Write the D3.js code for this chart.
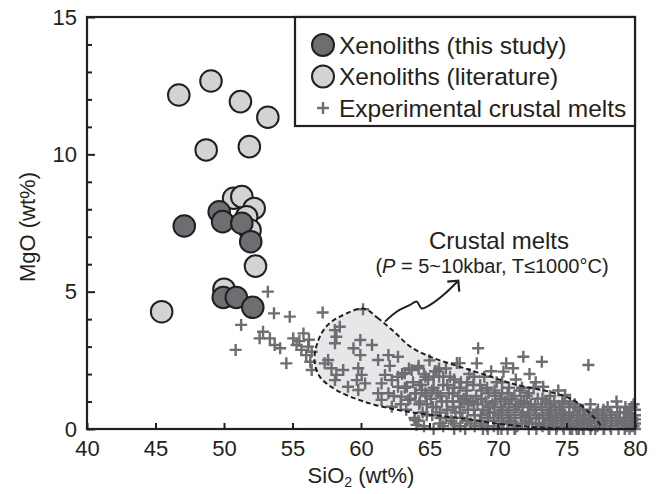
<!DOCTYPE html>
<html>
<head>
<meta charset="utf-8">
<script src="https://cdn.jsdelivr.net/npm/d3@7/dist/d3.min.js"></script>
<style>
  html, body { margin: 0; padding: 0; background: #fff; }
  svg { display: block; font-family: "Liberation Sans", Arial, sans-serif; }
</style>
</head>
<body>
<svg id="chart" width="657" height="494"></svg>
<script>
const xTicks = [40, 45, 50, 55, 60, 65, 70, 75, 80];
const yTicks = [0, 5, 10, 15];
const yMinorTicks = [1, 2, 3, 4, 6, 7, 8, 9, 11, 12, 13, 14];

// [SiO2, MgO]
const xenolithsLiterature = [
  [46.7, 12.16], [49.05, 12.67], [51.2, 11.92], [53.2, 11.35],
  [48.7, 10.16], [51.85, 10.28], [50.7, 8.4], [51.3, 8.46],
  [52.2, 8.03], [51.65, 7.73], [51.9, 7.24], [52.3, 5.93],
  [50.0, 5.09], [45.45, 4.27]
];

const xenolithsThisStudy = [
  [47.1, 7.39], [49.65, 7.91], [49.9, 7.55], [51.3, 7.49],
  [51.95, 6.82], [49.95, 4.79], [50.9, 4.79], [52.1, 4.43]
];

const crustalMelts = [
  // sparse, low-silica side
  [53.2, 5.0], [53.65, 4.21], [54.8, 4.09], [57.2, 4.24], [60.15, 4.36],
  [51.25, 3.79], [50.85, 2.88], [52.85, 3.54], [52.6, 3.3], [53.35, 3.3],
  [53.7, 3.06], [54.1, 2.94], [54.55, 2.39], [55.05, 3.3], [55.8, 3.48],
  [55.3, 3.06], [55.65, 2.88], [56.15, 3.0], [56.0, 2.69], [56.4, 2.81],
  [56.3, 2.45], [56.4, 2.15], [57.35, 2.39], [57.6, 2.51], [58.2, 3.36],
  [58.45, 3.72], [58.1, 3.6], [58.1, 3.12], [57.85, 2.21], [58.2, 1.97],
  [58.7, 2.15], [58.1, 1.78], [59.05, 1.54], [59.95, 3.24], [59.45, 2.94],
  [60.8, 3.06], [59.95, 2.69], [59.8, 2.21], [60.05, 1.97], [59.7, 1.78],
  [60.3, 1.66], [59.8, 1.42], [61.25, 2.51], [62.0, 2.69], [62.7, 2.63],
  [61.75, 1.97], [61.5, 1.66], [62.25, 1.78], [61.25, 1.3], [62.0, 1.3],
  [62.7, 1.54], [61.5, 1.06], [62.25, 0.81], [63.2, 2.03], [63.7, 2.15],
  [64.2, 2.21], [63.35, 1.54], [63.95, 1.3], [63.45, 1.06], [64.45, 1.42],
  [62.95, 1.18], [63.95, 0.33], [64.05, 0.15], [55.5, 3.2], [56.2, 3.25],
  // 62-66
  [62.1, 2.3], [62.4, 1.2], [62.7, 1.9], [62.9, 0.9], [63.0, 2.0], [63.2, 1.5],
  [63.3, 0.7], [63.5, 2.2], [63.6, 1.1], [63.8, 1.7], [63.9, 0.4], [64.0, 1.3],
  [64.2, 2.3], [64.3, 1.0], [64.4, 1.6], [64.5, 0.6], [64.6, 2.0], [64.7, 1.3],
  [64.8, 0.9], [64.9, 1.8], [65.0, 2.5], [65.1, 1.1], [65.2, 0.5], [65.3, 1.5],
  [65.4, 2.1], [65.5, 0.8], [65.6, 1.3], [65.7, 1.9], [65.8, 0.4], [65.9, 1.0],
  [66.0, 1.6], [66.0, 0.1], [65.3, 0.0], [64.6, 0.1], [65.5, 2.1], [66.0, 1.9],
  [64.25, 0.9], [64.3, 1.6], [64.2, 0.3], [64.75, 1.2], [64.8, 0.5], [64.7, 1.9],
  [65.25, 0.8], [65.2, 1.4], [65.3, 1.9], [65.75, 0.6], [65.8, 1.2], [65.7, 2.2],
  [65.75, 0.2],
  // 66-68
  [66.2, 2.2], [66.3, 0.7], [66.4, 1.3], [66.5, 1.9], [66.6, 0.3], [66.7, 1.0],
  [66.8, 1.5], [66.9, 0.6], [67.0, 2.4], [67.1, 1.2], [67.2, 0.8], [67.3, 1.7],
  [67.4, 0.4], [67.5, 1.1], [67.6, 0.0], [67.7, 1.4], [67.8, 0.7], [67.9, 2.0],
  [68.0, 1.0], [68.0, 0.2], [66.8, 0.0], [67.2, 2.4],
  [66.25, 1.0], [66.3, 1.6], [66.2, 0.4], [66.75, 0.8], [66.7, 1.3], [66.8, 1.8],
  [66.75, 0.2], [67.25, 0.6], [67.3, 1.0], [67.2, 1.5], [67.25, 0.1], [67.75, 0.3],
  [67.8, 0.9], [67.7, 1.2], [67.75, 1.7],
  // 68-70
  [68.2, 1.6], [68.3, 0.5], [68.55, 2.94], [68.4, 1.2], [68.5, 0.9], [68.45, 2.39],
  [68.7, 0.3], [68.8, 1.4], [68.9, 0.7], [69.0, 1.9], [69.1, 1.0], [69.2, 0.1],
  [69.3, 1.3], [69.4, 0.6], [69.5, 2.1], [69.6, 0.9], [69.7, 0.3], [69.8, 1.2],
  [69.9, 1.7], [70.0, 0.5], [70.0, 0.0], [68.9, 0.0],
  [68.25, 0.7], [68.2, 1.0], [68.3, 0.1], [68.25, 1.9], [68.75, 0.5], [68.8, 1.1],
  [68.7, 1.6], [68.75, 0.2], [69.25, 0.4], [69.3, 0.8], [69.2, 1.5], [69.25, 0.0],
  [69.75, 0.6], [69.8, 1.0], [69.7, 0.1], [69.75, 1.4],
  // 70-72
  [70.6, 2.39], [70.2, 0.8], [70.3, 1.3], [70.4, 0.2], [70.5, 1.0], [70.4, 2.09],
  [70.7, 0.6], [70.8, 1.5], [70.9, 0.3], [71.0, 1.1], [71.1, 2.21], [71.2, 0.7],
  [71.3, 1.8], [71.4, 0.1], [71.5, 0.9], [71.6, 1.4], [71.7, 0.5], [71.85, 2.63],
  [71.9, 1.0], [72.0, 0.3], [71.2, 0.0], [70.7, 0.0],
  [70.25, 0.4], [70.3, 0.7], [70.2, 1.1], [70.25, 0.0], [70.3, 1.7], [70.75, 0.2],
  [70.8, 0.9], [70.7, 1.3], [70.75, 0.5], [71.25, 0.4], [71.3, 0.8], [71.2, 1.2],
  [71.25, 0.0], [71.75, 0.2], [71.8, 0.6], [71.7, 1.0], [71.75, 1.5],
  // 72-74
  [72.1, 1.2], [72.2, 0.6], [72.3, 2.0], [72.4, 0.9], [72.5, 0.2], [72.6, 1.5],
  [72.7, 0.7], [72.8, 0.0], [72.9, 1.1], [73.0, 0.4], [73.2, 2.45], [73.2, 0.8],
  [73.3, 1.54], [73.4, 0.2], [73.5, 1.0], [73.6, 0.5], [73.7, 0.0], [73.8, 1.2],
  [73.9, 0.7], [74.0, 0.3],
  [72.25, 0.0], [72.3, 0.4], [72.2, 0.8], [72.25, 1.3], [72.75, 0.2], [72.8, 0.5],
  [72.7, 0.9], [72.75, 1.7], [73.25, 0.1], [73.3, 0.4], [73.2, 0.7], [73.25, 1.1],
  [73.75, 0.0], [73.8, 0.3], [73.7, 0.6], [73.75, 0.9],
  // 74-76
  [74.1, 1.0], [74.2, 0.5], [74.3, 0.1], [74.4, 1.4], [74.5, 0.7], [74.6, 0.3],
  [74.7, 1.0], [74.8, 0.0], [74.9, 0.5], [74.9, 1.24], [75.1, 0.2], [75.2, 0.8],
  [75.3, 0.4], [75.4, 0.0], [75.5, 0.6], [75.6, 0.9], [75.7, 0.2], [75.8, 0.5],
  [75.9, 0.0], [76.0, 0.7],
  [74.25, 0.2], [74.3, 0.4], [74.2, 0.8], [74.25, 0.0], [74.75, 0.1], [74.8, 0.4],
  [74.7, 0.6], [74.75, 0.9], [75.25, 0.0], [75.3, 0.3], [75.2, 0.5], [75.25, 1.0],
  [75.75, 0.1], [75.8, 0.3], [75.7, 0.8], [75.75, 0.0],
  // 76-78
  [76.1, 0.3], [76.2, 0.0], [76.3, 0.5], [76.5, 0.2], [76.6, 2.33], [76.7, 0.6],
  [76.8, 0.1], [77.0, 0.4], [77.1, 0.0], [77.3, 0.7], [77.4, 0.2], [77.6, 0.5],
  [77.7, 0.0], [77.9, 0.3], [78.0, 0.8],
  [76.25, 0.2], [76.3, 0.4], [76.2, 0.7], [76.25, 0.0], [76.75, 0.0], [76.8, 0.3],
  [76.7, 0.5], [76.75, 0.9], [77.25, 0.1], [77.3, 0.4], [77.2, 0.6], [77.75, 0.2],
  [77.8, 0.4], [77.7, 0.7], [77.75, 0.0],
  // 78-80
  [78.2, 0.1], [78.3, 0.5], [78.65, 1.0], [78.6, 0.3], [78.8, 0.0], [78.9, 0.6],
  [79.0, 0.2], [79.2, 0.4], [79.3, 0.8], [79.4, 0.1], [79.5, 0.57], [79.6, 0.0],
  [79.7, 0.7], [79.8, 0.3], [79.9, 0.9], [79.9, 0.1], [80.0, 0.5], [80.0, 0.2],
  [78.25, 0.0], [78.3, 0.3], [78.2, 0.6], [78.75, 0.2], [78.8, 0.4], [78.7, 0.8],
  [79.25, 0.0], [79.3, 0.3], [79.2, 0.6], [79.75, 0.1], [79.8, 0.4], [79.7, 0.5],
  [79.75, 0.8], [79.7, 0.2], [80.0, 0.0], [80.0, 0.35], [80.0, 0.7]
];

// dashed "crustal melts" field outline
const meltField = [
  [60.2, 4.38], [61.2, 4.05], [62.4, 3.55], [63.6, 3.0], [65.2, 2.6], [67.0, 2.3],
  [68.9, 2.0], [71.4, 1.6], [73.8, 1.35], [75.5, 1.05], [76.6, 0.62], [77.5, 0.05],
  [74.8, 0.02], [72.3, 0.08], [69.9, 0.2], [67.5, 0.38], [65.0, 0.52], [62.6, 0.7],
  [60.2, 1.0], [58.2, 1.42], [57.0, 1.9], [56.6, 2.5], [56.9, 3.25], [57.5, 3.75],
  [58.5, 4.1]
];

// wavy arrow from the field to the label
const arrowPath = [
  [61.75, 3.91], [62.6, 4.27], [63.58, 4.52], [64.06, 4.64], [64.43, 4.39],
  [65.04, 4.52], [66.01, 4.88], [67.1, 5.4]
];

const svg = d3.select("#chart");
const margin = { top: 17, right: 22, bottom: 65, left: 87 };
const width = 657, height = 494;

const x = d3.scaleLinear().domain([40, 80]).range([margin.left, width - margin.right]);
const y = d3.scaleLinear().domain([0, 15]).range([height - margin.bottom, margin.top]);

const ink = "#231f20";
const plusColor = "#6d6e71";
const fieldLine = d3.line().x(d => x(d[0])).y(d => y(d[1])).curve(d3.curveCatmullRomClosed);

// melt field
svg.append("path")
  .datum(meltField)
  .attr("fill", "#e6e7e8")
  .attr("d", fieldLine);

// plus markers
const plus = "M-6,0H6M0,-6V6";
svg.append("g")
  .selectAll("path")
  .data(crustalMelts)
  .join("path")
  .attr("transform", d => `translate(${x(d[0])},${y(d[1])})`)
  .attr("d", plus)
  .attr("stroke", plusColor)
  .attr("stroke-width", 2.4)
  .attr("fill", "none");

svg.append("path")
  .datum(meltField)
  .attr("fill", "none")
  .attr("stroke", ink)
  .attr("stroke-width", 2)
  .attr("stroke-dasharray", "5,3")
  .attr("d", fieldLine);

// arrow
svg.append("path")
  .datum(arrowPath)
  .attr("fill", "none")
  .attr("stroke", ink)
  .attr("stroke-width", 2)
  .attr("d", d3.line().x(d => x(d[0])).y(d => y(d[1])).curve(d3.curveCatmullRom));
{
  const tip = arrowPath[arrowPath.length - 1];
  const tx = x(tip[0]), ty = y(tip[1]);
  svg.append("path")
    .attr("d", `M${tx - 11},${ty + 1}L${tx},${ty}L${tx + 1},${ty + 11}`)
    .attr("fill", "none")
    .attr("stroke", ink)
    .attr("stroke-width", 2.2);
}

// circles
function drawCircles(data, fill) {
  svg.append("g")
    .selectAll("circle")
    .data(data)
    .join("circle")
    .attr("cx", d => x(d[0]))
    .attr("cy", d => y(d[1]))
    .attr("r", 10.8)
    .attr("fill", fill)
    .attr("stroke", ink)
    .attr("stroke-width", 2);
}
drawCircles(xenolithsLiterature, "#d1d3d4");
drawCircles(xenolithsThisStudy, "#6d6e71");

// axes
svg.append("g")
  .attr("transform", `translate(0,${y(0)})`)
  .call(d3.axisBottom(x).tickValues(xTicks).tickSizeInner(-6).tickSizeOuter(0).tickPadding(11));
svg.append("g")
  .attr("transform", `translate(${x(40)},0)`)
  .call(d3.axisLeft(y).tickValues(yTicks).tickSizeInner(-8).tickSizeOuter(0).tickPadding(10));
svg.append("g")
  .attr("transform", `translate(${x(40)},0)`)
  .call(d3.axisLeft(y).tickValues(yMinorTicks).tickSizeInner(-5).tickSizeOuter(0).tickFormat(""));

svg.selectAll(".domain").remove();
svg.selectAll(".tick line").attr("stroke", ink).attr("stroke-width", 2);
svg.selectAll(".tick text")
  .attr("fill", ink)
  .style("font-size", "22px")
  .style("font-family", "Liberation Sans, Arial, sans-serif");

// frame
svg.append("rect")
  .attr("x", x(40)).attr("y", y(15))
  .attr("width", x(80) - x(40)).attr("height", y(0) - y(15))
  .attr("fill", "none").attr("stroke", ink).attr("stroke-width", 2.2);

// legend
const legend = svg.append("g");
legend.append("rect")
  .attr("x", 295).attr("y", y(15))
  .attr("width", x(80) - 295).attr("height", 109)
  .attr("fill", "#fff").attr("stroke", ink).attr("stroke-width", 2.2);
const legendItems = [
  { label: "Xenoliths (this study)", type: "circle", fill: "#6d6e71" },
  { label: "Xenoliths (literature)", type: "circle", fill: "#d1d3d4" },
  { label: "Experimental crustal melts", type: "plus" }
];
legendItems.forEach((item, i) => {
  const cy = 45 + i * 31.5;
  if (item.type === "circle") {
    legend.append("circle").attr("cx", 323).attr("cy", cy).attr("r", 11)
      .attr("fill", item.fill).attr("stroke", ink).attr("stroke-width", 2);
  } else {
    legend.append("path").attr("transform", `translate(323,${cy})`).attr("d", plus)
      .attr("stroke", plusColor).attr("stroke-width", 2.4);
  }
  legend.append("text").attr("x", 339).attr("y", cy + 8.5)
    .attr("fill", ink).style("font-size", "24.5px").text(item.label);
});

// annotation
svg.append("text")
  .attr("x", 499).attr("y", 249)
  .attr("text-anchor", "middle").attr("fill", ink)
  .style("font-size", "24px").text("Crustal melts");
const sub = svg.append("text")
  .attr("x", 492).attr("y", 273)
  .attr("text-anchor", "middle").attr("fill", ink)
  .style("font-size", "20px");
sub.append("tspan").text("(");
sub.append("tspan").style("font-style", "italic").text("P");
sub.append("tspan").text(" = 5~10kbar, T≤1000°C)");

// axis titles
const xt = svg.append("text")
  .attr("x", x(60)).attr("y", 483)
  .attr("text-anchor", "middle").attr("fill", ink)
  .style("font-size", "22px");
xt.append("tspan").text("SiO");
xt.append("tspan").attr("dy", 4).style("font-size", "14px").text("2");
xt.append("tspan").attr("dy", -4).text(" (wt%)");

svg.append("text")
  .attr("transform", `translate(35,${(y(0) + y(15)) / 2 + 4}) rotate(-90)`)
  .attr("text-anchor", "middle").attr("fill", ink)
  .style("font-size", "22px").text("MgO (wt%)");
</script>
</body>
</html>
